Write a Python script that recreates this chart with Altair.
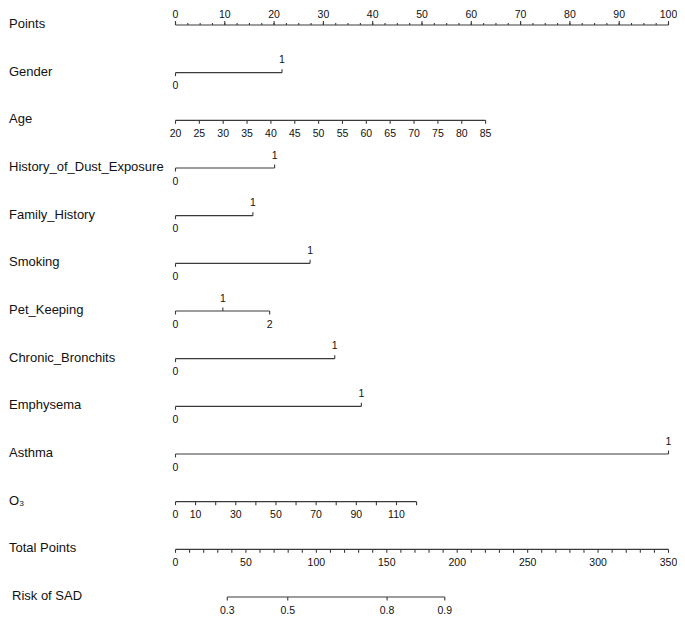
import altair as alt
import pandas as pd

# ---------------- data ----------------
row_names = ["Points", "Gender", "Age", "History_of_Dust_Exposure", "Family_History",
             "Smoking", "Pet_Keeping", "Chronic_Bronchits", "Emphysema", "Asthma",
             "O\u2083", "Total Points", "Risk of SAD"]

# Points scale (0-100)
points_major = [0, 10, 20, 30, 40, 50, 60, 70, 80, 90, 100]
points_minor = [i * 2.5 for i in range(41)]

# categorical predictors: level labels, points of each level, label side
cat_levels = {
    "Gender": (["0", "1"], [0, 21.6], ["below", "above"]),
    "History_of_Dust_Exposure": (["0", "1"], [0, 20.1], ["below", "above"]),
    "Family_History": (["0", "1"], [0, 15.7], ["below", "above"]),
    "Smoking": (["0", "1"], [0, 27.3], ["below", "above"]),
    "Pet_Keeping": (["0", "1", "2"], [0, 9.6, 19.1], ["below", "above", "below"]),
    "Chronic_Bronchits": (["0", "1"], [0, 32.3], ["below", "above"]),
    "Emphysema": (["0", "1"], [0, 37.7], ["below", "above"]),
    "Asthma": (["0", "1"], [0, 100], ["below", "above"]),
}

# continuous predictors
age_ticks = [20, 25, 30, 35, 40, 45, 50, 55, 60, 65, 70, 75, 80, 85]
age_range = (20, 85)
age_points = (0, 62.9)

o3_ticks = [0, 10, 20, 30, 40, 50, 60, 70, 80, 90, 100, 110, 120]
o3_labels = [0, 10, 30, 50, 70, 90, 110]
o3_range = (0, 120)
o3_points = (0, 48.9)

total_ticks = list(range(0, 351, 10))
total_labels = [0, 50, 100, 150, 200, 250, 300, 350]
total_max = 350

risk_labels = ["0.3", "0.5", "0.8", "0.9"]
risk_total_points = [36.75, 79.7, 150.2, 191.2]

# ---------------- layout ----------------
ROW0, ROWLAST = 25.0, 597.0
ROWSTEP = (ROWLAST - ROW0) / (len(row_names) - 1)
row_y = {n: ROW0 + ROWSTEP * i for i, n in enumerate(row_names)}
TICK = 3.5
LAB_ABOVE, LAB_BELOW = -12.5, 13.5

def lin(v, r, p):
    return p[0] + (v - r[0]) / (r[1] - r[0]) * (p[1] - p[0])

def tot(v):
    return v * 100.0 / total_max

lines, ticks, labels = [], [], []

# Points axis
y = row_y["Points"]
lines.append(dict(x=0, x2=100, y=y))
for v in points_minor:
    ticks.append(dict(x=v, y=y, y2=y - 2))
for v in points_major:
    ticks.append(dict(x=v, y=y, y2=y - 4))
    labels.append(dict(x=v, y=y - 10.5, t=str(v)))

# categorical rows
for name, (levs, pts, sides) in cat_levels.items():
    y = row_y[name]
    lines.append(dict(x=min(pts), x2=max(pts), y=y))
    for lv, p, s in zip(levs, pts, sides):
        if s == "above":
            ticks.append(dict(x=p, y=y, y2=y - TICK))
            labels.append(dict(x=p, y=y + LAB_ABOVE, t=lv))
        else:
            ticks.append(dict(x=p, y=y, y2=y + TICK))
            labels.append(dict(x=p, y=y + LAB_BELOW, t=lv))

# Age
y = row_y["Age"]
lines.append(dict(x=age_points[0], x2=age_points[1], y=y))
for v in age_ticks:
    p = lin(v, age_range, age_points)
    ticks.append(dict(x=p, y=y, y2=y + TICK))
    labels.append(dict(x=p, y=y + LAB_BELOW, t=str(v)))

# O3
y = row_y["O\u2083"]
lines.append(dict(x=o3_points[0], x2=o3_points[1], y=y))
for v in o3_ticks:
    ticks.append(dict(x=lin(v, o3_range, o3_points), y=y, y2=y + TICK))
for v in o3_labels:
    labels.append(dict(x=lin(v, o3_range, o3_points), y=y + LAB_BELOW, t=str(v)))

# Total points
y = row_y["Total Points"]
lines.append(dict(x=0, x2=tot(total_max), y=y))
for v in total_ticks:
    ticks.append(dict(x=tot(v), y=y, y2=y + TICK))
for v in total_labels:
    labels.append(dict(x=tot(v), y=y + LAB_BELOW, t=str(v)))

# Risk
y = row_y["Risk of SAD"]
lines.append(dict(x=tot(min(risk_total_points)), x2=tot(max(risk_total_points)), y=y))
for lab, v in zip(risk_labels, risk_total_points):
    ticks.append(dict(x=tot(v), y=y, y2=y + TICK))
    labels.append(dict(x=tot(v), y=y + LAB_BELOW, t=lab))

# ---------------- chart ----------------
W, H = 669, 609
X0_PAGE, X100_PAGE = 175.5, 668.5
PX = (X100_PAGE - X0_PAGE) / 100.0  # px per point
xmin = -(X0_PAGE - 8) / PX
xscale = alt.Scale(domain=[xmin, xmin + W / PX], nice=False, zero=False)
yscale = alt.Scale(domain=[8, 8 + H], nice=False, zero=False, reverse=True)

names = []
for n in row_names:
    xpage = 12.0 if n == "Risk of SAD" else 9.0
    names.append(dict(x=xmin + (xpage - 8) / PX, y=row_y[n] - 1, t=n))

FONT = "Liberation Sans"
LINE = "#3a3a3a"
TXT = "#111111"

X = alt.X("x:Q", scale=xscale, axis=None)
Y = alt.Y("y:Q", scale=yscale, axis=None)

line_layer = alt.Chart(pd.DataFrame(lines)).mark_rule(color=LINE, strokeWidth=1.1).encode(
    x=X, x2="x2:Q", y=Y)
tick_layer = alt.Chart(pd.DataFrame(ticks)).mark_rule(color=LINE, strokeWidth=1.1).encode(
    x=X, y=Y, y2="y2:Q")
label_layer = alt.Chart(pd.DataFrame(labels)).mark_text(
    font=FONT, fontSize=10.5, color=TXT, align="center", baseline="middle").encode(
    x=X, y=Y, text="t:N")
name_layer = alt.Chart(pd.DataFrame(names)).mark_text(
    font=FONT, fontSize=13, color=TXT, align="left", baseline="middle").encode(
    x=X, y=Y, text="t:N")

chart = alt.layer(line_layer, tick_layer, label_layer, name_layer).properties(
    width=W, height=H, padding=0, autosize=alt.AutoSizeParams(type="none")
).configure(background="white").configure_view(stroke=None, strokeWidth=0)

chart.save("out.html", embed_options={"renderer": "svg", "actions": False})
